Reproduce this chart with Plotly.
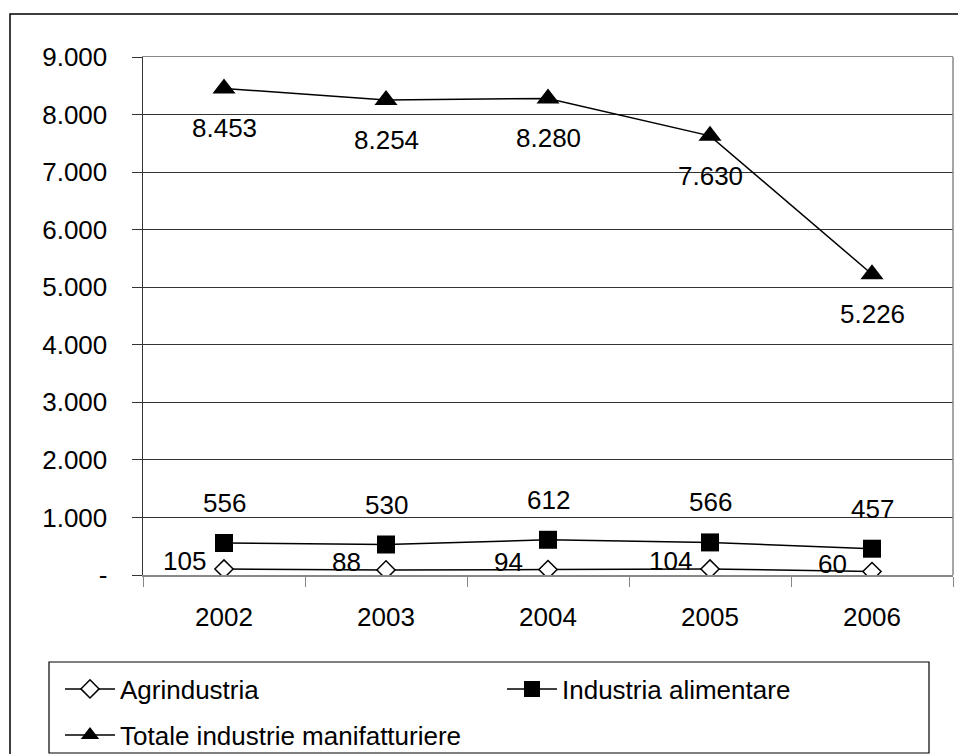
import plotly.graph_objects as go

years = ["2002", "2003", "2004", "2005", "2006"]
agrindustria = [105, 88, 94, 104, 60]
industria_alimentare = [556, 530, 612, 566, 457]
totale_manifatturiere = [8453, 8254, 8280, 7630, 5226]
y_tickvals = [0, 1000, 2000, 3000, 4000, 5000, 6000, 7000, 8000, 9000]
y_ticktext = ["-", "1.000", "2.000", "3.000", "4.000", "5.000", "6.000", "7.000", "8.000", "9.000"]

W, H = 958, 754
L, R, T, B = 143, 953, 57, 575
FONT = dict(family="Liberation Sans, Arial, sans-serif", size=26, color="black")


def px(x):
    return (x - L) / (R - L)


def py(y):
    return (B - y) / (B - T)


def cx(x):
    return x / W


def cy(y):
    return 1 - y / H


def fmt(v):
    return f"{v:,}".replace(",", ".")


fig = go.Figure()
fig.add_trace(go.Scatter(
    x=years, y=agrindustria, name="Agrindustria", mode="lines+markers",
    line=dict(color="black", width=1.5),
    marker=dict(symbol="diamond", size=14, color="white", line=dict(color="black", width=1.5)),
    legend="legend",
))
fig.add_trace(go.Scatter(
    x=years, y=industria_alimentare, name="Industria alimentare", mode="lines+markers",
    line=dict(color="black", width=1.5),
    marker=dict(symbol="square", size=18, color="black"),
    legend="legend",
))
fig.add_trace(go.Scatter(
    x=years, y=totale_manifatturiere, name="Totale industrie manifatturiere", mode="lines+markers",
    line=dict(color="black", width=1.5),
    marker=dict(symbol="triangle-up", size=20, color="black"),
    legend="legend2",
))

annotations = []
for i, v in enumerate(totale_manifatturiere):
    annotations.append(dict(x=i, y=v, xref="x", yref="y", text=fmt(v), showarrow=False,
                            yshift=-40, font=FONT))
for i, v in enumerate(industria_alimentare):
    annotations.append(dict(x=i, y=v, xref="x", yref="y", text=fmt(v), showarrow=False,
                            yshift=40, font=FONT))
for i, v in enumerate(agrindustria):
    annotations.append(dict(x=i, y=v, xref="x", yref="y", text=fmt(v), showarrow=False,
                            xshift=-40, yshift=8, font=FONT))

shapes = [
    # outer chart border
    dict(type="rect", xref="paper", yref="paper", x0=px(10), x1=px(975), y0=py(14), y1=py(775),
         line=dict(color="black", width=1.5), layer="below"),
    # right plot-area border
    dict(type="line", xref="paper", yref="paper", x0=1, x1=1, y0=0, y1=1,
         line=dict(color="#888888", width=1.5)),
    # legend box
    dict(type="rect", xref="paper", yref="paper", x0=px(49), x1=px(929), y0=py(662), y1=py(753),
         line=dict(color="black", width=1.2)),
]

legend_common = dict(
    orientation="h", xanchor="left", yanchor="middle",
    itemwidth=50, bgcolor="rgba(0,0,0,0)", borderwidth=0, font=FONT,
    traceorder="normal",
)

fig.update_layout(
    width=W, height=H,
    margin=dict(l=L, r=W - R, t=T, b=H - B),
    paper_bgcolor="white", plot_bgcolor="white",
    font=FONT,
    showlegend=True,
    legend=dict(x=px(60), y=py(689), entrywidth=377, entrywidthmode="pixels", **legend_common),
    legend2=dict(x=cx(60), y=cy(735), xref="container", yref="container", **legend_common),
    xaxis=dict(
        type="category", range=[-0.5, 4.5],
        showline=True, linecolor="#888888", linewidth=1.5, mirror=True,
        ticks="outside", tickson="boundaries", ticklen=10, tickcolor="#888888",
        showgrid=False, ticklabelstandoff=18, tickfont=FONT,
    ),
    yaxis=dict(
        range=[0, 9000], tickvals=y_tickvals, ticktext=y_ticktext,
        showline=True, linecolor="#333333", linewidth=1.5,
        ticks="outside", ticklen=10, tickcolor="#333333",
        showgrid=True, gridcolor="#333333", gridwidth=1, zeroline=False,
        ticklabelstandoff=19, tickfont=FONT,
    ),
    annotations=annotations,
    shapes=shapes,
    hovermode=False,
)

fig.write_html(
    "out.html",
    config={"displayModeBar": False, "staticPlot": True},
    post_script="document.body.style.margin='0';document.body.style.overflow='hidden';",
)
